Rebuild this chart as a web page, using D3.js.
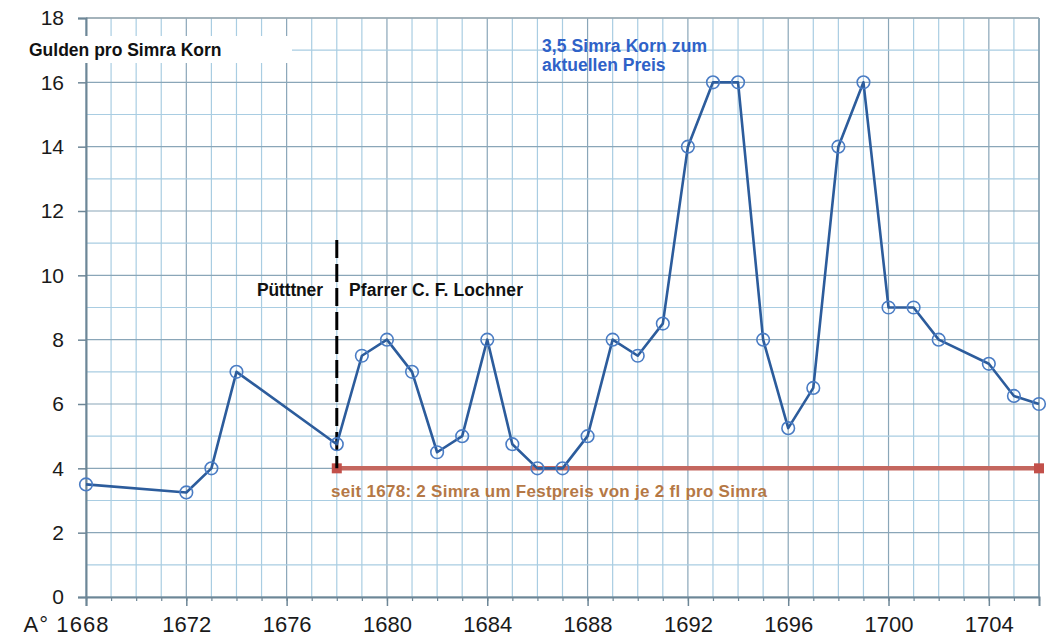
<!DOCTYPE html>
<html><head><meta charset="utf-8">
<script src="https://cdn.jsdelivr.net/npm/d3@7"></script>
<style>body{margin:0;background:#fff}svg{display:block}text{font-family:Arial,"Liberation Sans",sans-serif}</style>
</head><body><svg id="c" width="1052" height="640"></svg>
<script>
const years = [1668,1672,1673,1674,1678,1679,1680,1681,1682,1683,1684,1685,1686,1687,1688,1689,1690,1691,1692,1693,1694,1695,1696,1697,1698,1699,1700,1701,1702,1704,1705,1706];
const prices = [3.5,3.25,4,7,4.75,7.5,8,7,4.5,5,8,4.75,4,4,5,8,7.5,8.5,14,16,16,8,5.25,6.5,14,16,9,9,8,7.25,6.25,6];
const fixedYears = [1678,1706];
const fixedPrice = [4,4];
const xTicks = [1668,1672,1676,1680,1684,1688,1692,1696,1700,1704];
const yTicks = [0,2,4,6,8,10,12,14,16,18];
const dividerYear = 1678, dividerTop = 11.1;

const svg = d3.select("#c");
const x = d3.scaleLinear().domain([1668,1706]).range([86,1039]);
const y = d3.scaleLinear().domain([0,18]).range([597,18]);

const g = svg.append("g");
d3.range(1668,1707).forEach(v=>{
  g.append("line").attr("x1",x(v)).attr("x2",x(v)).attr("y1",y(18)).attr("y2",y(0))
   .attr("stroke",(v-1668)%4===0?"#8aa6b8":"#a9cde2").attr("stroke-width",1.2);
});
d3.range(0,19).forEach(v=>{
  g.append("line").attr("x1",x(1668)).attr("x2",x(1706)).attr("y1",y(v)).attr("y2",y(v))
   .attr("stroke",v%2===0?"#8aa6b8":"#a9cde2").attr("stroke-width",1.2);
});
g.append("line").attr("x1",x(1706)).attr("x2",x(1706)).attr("y1",y(18)).attr("y2",y(0)).attr("stroke","#7f98a8").attr("stroke-width",1.5);
g.append("line").attr("x1",x(1668)).attr("x2",x(1706)).attr("y1",y(18)).attr("y2",y(18)).attr("stroke","#9aa8b0").attr("stroke-width",1.5);

const xAxis = d3.axisBottom(x).tickValues(xTicks).tickSize(9).tickFormat(d=> d===1668 ? "A° 1668" : d);
const xa = svg.append("g").attr("transform",`translate(0,${y(0)})`).call(xAxis);
xa.select(".domain").attr("stroke","#6d8696").attr("stroke-width",2);
xa.selectAll(".tick line").attr("stroke","#6d8696").attr("stroke-width",1.5);
xa.selectAll("text").attr("font-size",22).attr("fill","#1a1a1a").attr("dy","0.95em").attr("y",14);
xa.selectAll(".tick").filter(d=>d===1668).select("text").attr("text-anchor","end").attr("dx",22).attr("textLength",85);
const xm = svg.append("g").attr("transform",`translate(0,${y(0)})`).call(d3.axisBottom(x).tickValues(d3.range(1668,1707)).tickSize(4).tickFormat(""));
xm.select(".domain").remove();
xm.selectAll(".tick line").attr("stroke","#6d8696").attr("stroke-width",1.2);

const yAxis = d3.axisLeft(y).tickValues(yTicks).tickSize(8).tickPadding(14);
const ya = svg.append("g").attr("transform",`translate(${x(1668)},0)`).call(yAxis);
ya.select(".domain").attr("stroke","#6d8696").attr("stroke-width",2);
ya.selectAll(".tick line").attr("stroke","#6d8696").attr("stroke-width",1.5);
ya.selectAll("text").attr("font-size",21).attr("fill","#1a1a1a");

svg.append("rect").attr("x",0).attr("y",36).attr("width",292).attr("height",27).attr("fill","#fff");
svg.append("text").attr("x",29).attr("y",56).attr("font-size",17.5).attr("font-weight","bold").attr("fill","#111").text("Gulden pro Simra Korn");

const fixedLine = d3.line().x((d,i)=>x(fixedYears[i])).y(d=>y(d));
svg.append("path").datum(fixedPrice).attr("d",fixedLine).attr("fill","none").attr("stroke","#c4675f").attr("stroke-width",4.5);
svg.selectAll(".sq").data(fixedPrice).enter().append("rect")
  .attr("x",(d,i)=>x(fixedYears[i])-5).attr("y",d=>y(d)-5).attr("width",10).attr("height",10).attr("fill","#c2504a");

svg.append("line").attr("x1",x(dividerYear)).attr("x2",x(dividerYear)).attr("y1",y(dividerTop)).attr("y2",y(4))
  .attr("stroke","#000").attr("stroke-width",3).attr("stroke-dasharray","18,6");

const line = d3.line().x((d,i)=>x(years[i])).y(d=>y(d));
svg.append("path").datum(prices).attr("d",line).attr("fill","none").attr("stroke","#2c5c9c").attr("stroke-width",2.6).attr("stroke-linejoin","round");
svg.selectAll(".pt").data(prices).enter().append("circle")
  .attr("cx",(d,i)=>x(years[i])).attr("cy",d=>y(d)).attr("r",6.3)
  .attr("fill","none").attr("stroke","#4a7cc4").attr("stroke-width",1.6);

svg.append("text").attr("x",257).attr("y",296).attr("font-size",17.5).attr("font-weight","bold").attr("fill","#111").attr("textLength",66).text("Pütttner");
svg.append("text").attr("x",349).attr("y",296).attr("font-size",17.5).attr("font-weight","bold").attr("fill","#111").attr("textLength",174).text("Pfarrer C. F. Lochner");
svg.append("text").attr("x",542).attr("y",52).attr("font-size",17.5).attr("font-weight","bold").attr("fill","#2f62c8").attr("textLength",165).text("3,5 Simra Korn zum");
svg.append("text").attr("x",542).attr("y",71).attr("font-size",17.5).attr("font-weight","bold").attr("fill","#2f62c8").text("aktuellen Preis");
svg.append("text").attr("x",331).attr("y",497).attr("font-size",17).attr("font-weight","bold").attr("fill","#b57845").attr("textLength",436).text("seit 1678: 2 Simra um Festpreis von je 2 fl pro Simra");
</script></body></html>
